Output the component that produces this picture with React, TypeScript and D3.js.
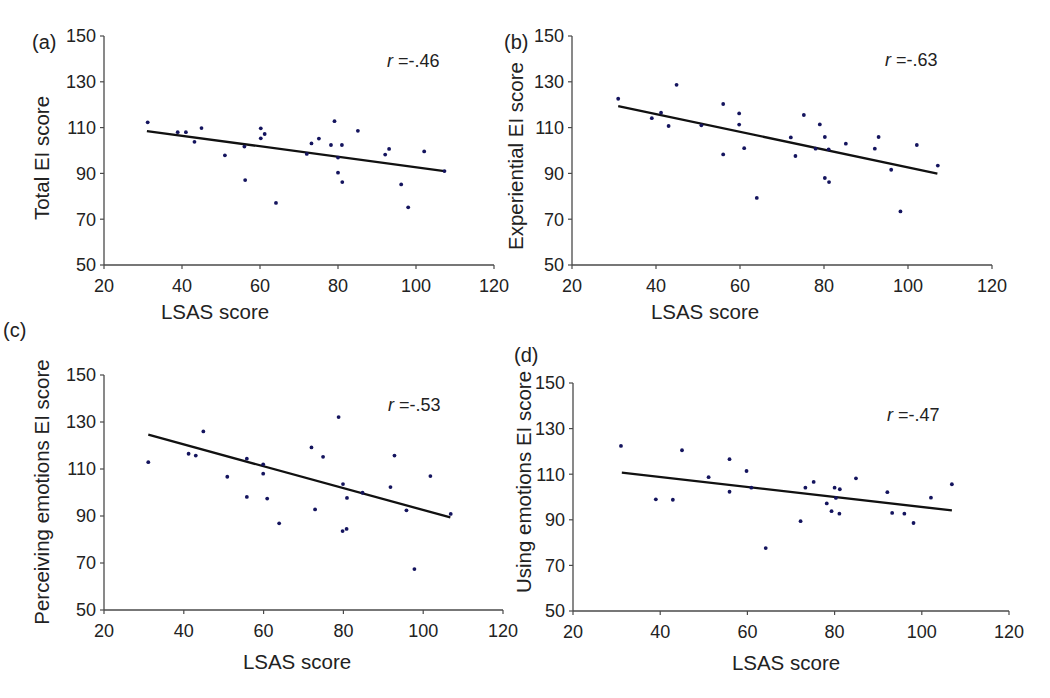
import React from 'react';
import * as d3 from 'd3';

// tick labels shared by all four panels
const xTicks = [20, 40, 60, 80, 100, 120];
const yTicks = [50, 70, 90, 110, 130, 150];

// (a) Total EI
const lsasA = [31.2, 38.9, 41, 43.2, 45, 51, 56, 56.2, 60.2, 60.2, 61.2, 64.1, 72, 73.2, 75.1, 78.2, 79.1, 80, 80, 81, 81.1, 85.1, 92.1, 93.1, 96.2, 98, 102.1, 107.3];
const eiA = [112.3, 108, 108, 103.8, 109.8, 97.9, 101.7, 87.1, 109.7, 105.3, 107.2, 77.1, 98.5, 103.1, 105.2, 102.4, 112.8, 96.9, 90.3, 102.4, 86.2, 108.6, 98.2, 100.7, 85.2, 75.2, 99.6, 91];
const fitA = [[31, 108.5], [107.3, 91]];

// (b) Experiential EI
const lsasB = [31, 39, 41.2, 43, 44.9, 50.8, 56, 56, 59.8, 59.8, 61, 64, 72.1, 73.2, 75.2, 79, 78, 80.2, 81.1, 80.2, 81.2, 85.2, 92.1, 93, 96, 98.2, 102.1, 107.1];
const eiB = [122.6, 114.1, 116.5, 110.7, 128.7, 111, 120.3, 98.3, 116.2, 111.3, 101, 79.3, 105.7, 97.6, 115.5, 111.4, 100.8, 105.9, 100.5, 88, 86.2, 103, 100.8, 105.9, 91.6, 73.4, 102.4, 93.4];
const fitB = [[31, 119.4], [107, 89.9]];

// (c) Perceiving emotions EI
const lsasC = [31.1, 41.2, 43, 44.9, 50.9, 55.8, 55.8, 59.9, 59.9, 60.9, 63.9, 72, 72.9, 74.9, 78.8, 79.9, 80.9, 79.8, 80.8, 84.8, 91.8, 92.8, 95.8, 97.8, 101.8, 106.9];
const eiC = [112.9, 116.5, 115.7, 126, 106.7, 114.4, 98.1, 112, 108, 97.4, 86.9, 119.2, 92.8, 115.2, 132.1, 103.6, 97.7, 83.6, 84.5, 99.9, 102.3, 115.7, 92.4, 67.4, 107, 90.9];
const fitC = [[31.1, 124.6], [106.8, 89.4]];

// (d) Using emotions EI
const lsasD = [31, 39, 42.9, 45, 51.1, 55.9, 55.9, 59.8, 60.9, 64.2, 72.2, 73.3, 75.2, 78.2, 79.3, 80, 80.3, 81.2, 81.1, 84.9, 92.1, 93.2, 96, 98.1, 102.1, 106.9];
const eiD = [122.4, 99, 98.8, 120.5, 108.7, 116.6, 102.3, 111.4, 104.1, 77.6, 89.4, 104.1, 106.6, 97.2, 93.8, 104.1, 99.6, 103.4, 92.7, 108.2, 102.1, 93, 92.7, 88.6, 99.7, 105.6];
const fitD = [[31.2, 110.7], [106.9, 94.1]];

const panels = [
  { tag: '(a)', yTitle: 'Total EI score', r: '-.46', xs: lsasA, ys: eiA, fit: fitA,
    box: [104, 494, 265, 36], tagAt: [32, 49], rAt: [387, 67], yTitleAt: [42, 158], xTitleAt: [215, 312] },
  { tag: '(b)', yTitle: 'Experiential EI score', r: '-.63', xs: lsasB, ys: eiB, fit: fitB,
    box: [572, 992, 265, 36], tagAt: [504, 49], rAt: [885, 66], yTitleAt: [516, 156], xTitleAt: [705, 312] },
  { tag: '(c)', yTitle: 'Perceiving emotions EI score', r: '-.53', xs: lsasC, ys: eiC, fit: fitC,
    box: [104, 503, 610, 375], tagAt: [3, 337], rAt: [388, 411], yTitleAt: [42, 492], xTitleAt: [297, 662] },
  { tag: '(d)', yTitle: 'Using emotions EI score', r: '-.47', xs: lsasD, ys: eiD, fit: fitD,
    box: [573, 1009, 611, 383], tagAt: [514, 362], rAt: [887, 421], yTitleAt: [524, 482], xTitleAt: [786, 663] },
];

const font = '"Liberation Sans", Arial, sans-serif';
const axisColor = '#4a4a4a';
const dotColor = '#14145e';

const Panel = ({ p }: { p: (typeof panels)[number] }) => {
  const [x0, x1, y0, y1] = p.box;
  const x = d3.scaleLinear().domain([20, 120]).range([x0, x1]);
  const y = d3.scaleLinear().domain([50, 150]).range([y0, y1]);
  const line = d3.line<number[]>().x((d) => x(d[0])).y((d) => y(d[1]));

  return (
    <g>
      {/* axes */}
      <line x1={x0} x2={x0} y1={y1} y2={y0} stroke={axisColor} strokeWidth={1.3} />
      <line x1={x0} x2={x1} y1={y0} y2={y0} stroke={axisColor} strokeWidth={1.3} />
      {yTicks.map((t) => (
        <g key={'y' + t}>
          <line x1={x0 - 4} x2={x0} y1={y(t)} y2={y(t)} stroke={axisColor} strokeWidth={1.2} />
          <text x={x0 - 8} y={y(t)} dy="0.36em" textAnchor="end" fontSize={18} fill="#222">
            {t}
          </text>
        </g>
      ))}
      {xTicks.map((t) => (
        <g key={'x' + t}>
          <line x1={x(t)} x2={x(t)} y1={y0} y2={y0 + 4} stroke={axisColor} strokeWidth={1.2} />
          <text x={x(t)} y={y0 + 21} dy="0.36em" textAnchor="middle" fontSize={18} fill="#222">
            {t}
          </text>
        </g>
      ))}

      {/* fit line */}
      <path d={line(p.fit) || ''} stroke="#111" strokeWidth={2.3} fill="none" />

      {/* points */}
      {p.xs.map((v, i) => (
        <circle key={i} cx={x(v)} cy={y(p.ys[i])} r={1.9} fill={dotColor} />
      ))}

      {/* texts */}
      <text x={p.tagAt[0]} y={p.tagAt[1]} fontSize={20} fill="#222">
        {p.tag}
      </text>
      <text x={p.rAt[0]} y={p.rAt[1]} fontSize={18} fill="#222">
        <tspan fontStyle="italic">r</tspan> =-{p.r.slice(1)}
      </text>
      <text
        transform={`translate(${p.yTitleAt[0]},${p.yTitleAt[1]}) rotate(-90)`}
        dy="0.36em"
        textAnchor="middle"
        fontSize={20.5}
        fill="#222"
      >
        {p.yTitle}
      </text>
      <text x={p.xTitleAt[0]} y={p.xTitleAt[1]} dy="0.36em" textAnchor="middle" fontSize={20.5} fill="#222">
        LSAS score
      </text>
    </g>
  );
};

export default function App() {
  return (
    <svg
      width={1050}
      height={698}
      style={{ position: 'absolute', left: 0, top: 0, background: '#fff', fontFamily: font }}
    >
      {panels.map((p) => (
        <Panel key={p.tag} p={p} />
      ))}
    </svg>
  );
}
